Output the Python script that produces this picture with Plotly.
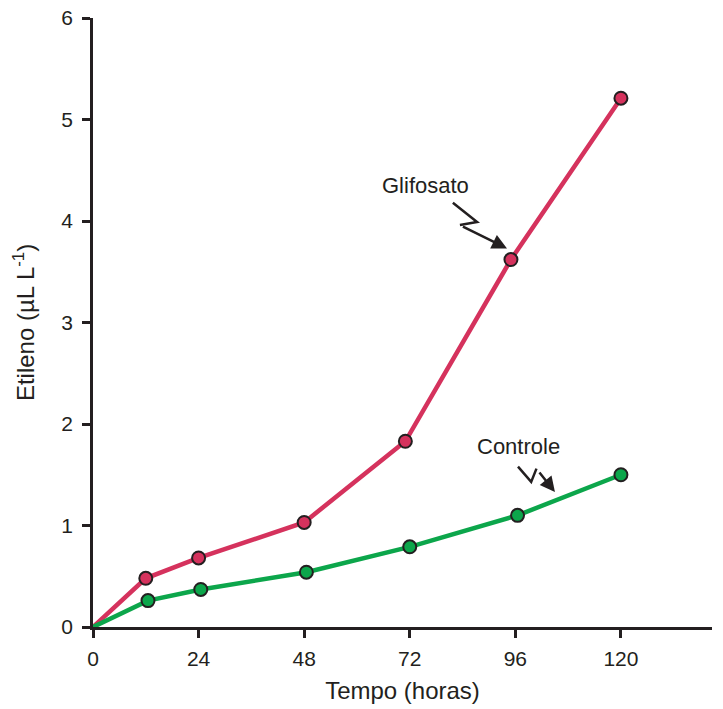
import plotly.graph_objects as go

# Data
tempo_glif = [0, 12, 24, 48, 71, 95, 120]
etileno_glif = [0, 0.48, 0.68, 1.03, 1.83, 3.62, 5.21]
tempo_ctrl = [0, 12.5, 24.5, 48.5, 72, 96.5, 120]
etileno_ctrl = [0, 0.26, 0.37, 0.54, 0.79, 1.10, 1.50]
x_ticks = [0, 24, 48, 72, 96, 120]
y_ticks = [0, 1, 2, 3, 4, 5, 6]

PINK = "#d5325d"
GREEN = "#0ca64b"
DARK = "#231f20"
FONT = "Liberation Sans"

fig = go.Figure()
fig.add_trace(go.Scatter(
    x=tempo_glif, y=etileno_glif, mode="lines+markers",
    line=dict(color=PINK, width=4.5),
    marker=dict(size=[0, 13, 13, 13, 13, 13, 13], color=PINK, opacity=1,
                line=dict(color=DARK, width=2)),
    cliponaxis=False, showlegend=False))
fig.add_trace(go.Scatter(
    x=tempo_ctrl, y=etileno_ctrl, mode="lines+markers",
    line=dict(color=GREEN, width=4.5),
    marker=dict(size=[0, 13, 13, 13, 13, 13, 13], color=GREEN, opacity=1,
                line=dict(color=DARK, width=2)),
    cliponaxis=False, showlegend=False))

# zigzag arrows (annotation decorations)
fig.add_shape(type="path", xref="x", yref="y",
              path="M 81.8 4.18 L 87.3 3.99 L 83.4 3.96",
              line=dict(color=DARK, width=2.5))
fig.add_annotation(x=94.1, y=3.73, ax=83.4, ay=3.96, xref="x", yref="y",
                   axref="x", ayref="y", showarrow=True, arrowhead=2,
                   arrowsize=1.2, arrowwidth=2.5, arrowcolor=DARK, text=" ")
fig.add_shape(type="path", xref="x", yref="y",
              path="M 96.6 1.58 L 99.6 1.43 L 100.8 1.56",
              line=dict(color=DARK, width=2.5))
fig.add_annotation(x=105, y=1.33, ax=100.8, ay=1.56, xref="x", yref="y",
                   axref="x", ayref="y", showarrow=True, arrowhead=2,
                   arrowsize=1.2, arrowwidth=2.5, arrowcolor=DARK, text=" ")

fig.add_annotation(x=75.5, y=4.35, text="Glifosato", showarrow=False,
                   font=dict(family=FONT, size=22, color=DARK))
fig.add_annotation(x=96.8, y=1.78, text="Controle", showarrow=False,
                   font=dict(family=FONT, size=22, color=DARK))

axis_common = dict(showline=True, linecolor=DARK, linewidth=2.5,
                   ticks="outside", ticklen=8, tickwidth=2.5, tickcolor=DARK,
                   showgrid=False, zeroline=False, automargin=False,
                   tickfont=dict(family=FONT, size=21, color=DARK))

fig.update_xaxes(range=[0, 140.7], tickvals=x_ticks, ticktext=[str(v) for v in x_ticks],
                 ticklabelstandoff=3,
                 title=dict(text="Tempo (horas)", standoff=14,
                            font=dict(family=FONT, size=24, color=DARK)),
                 **axis_common)
fig.update_yaxes(range=[0, 6], tickvals=y_ticks, ticktext=[str(v) for v in y_ticks],
                 ticklabelstandoff=5,
                 title=dict(text="Etileno (µL L<sup>-1</sup>)", standoff=20,
                            font=dict(family=FONT, size=24, color=DARK)),
                 **axis_common)

fig.update_layout(width=723, height=709,
                  margin=dict(l=93, r=11, t=18, b=82),
                  plot_bgcolor="white", paper_bgcolor="white",
                  font=dict(family=FONT, color=DARK))

fig.write_html("out.html", config={"displayModeBar": False},
               post_script="document.body.style.margin='0';")
